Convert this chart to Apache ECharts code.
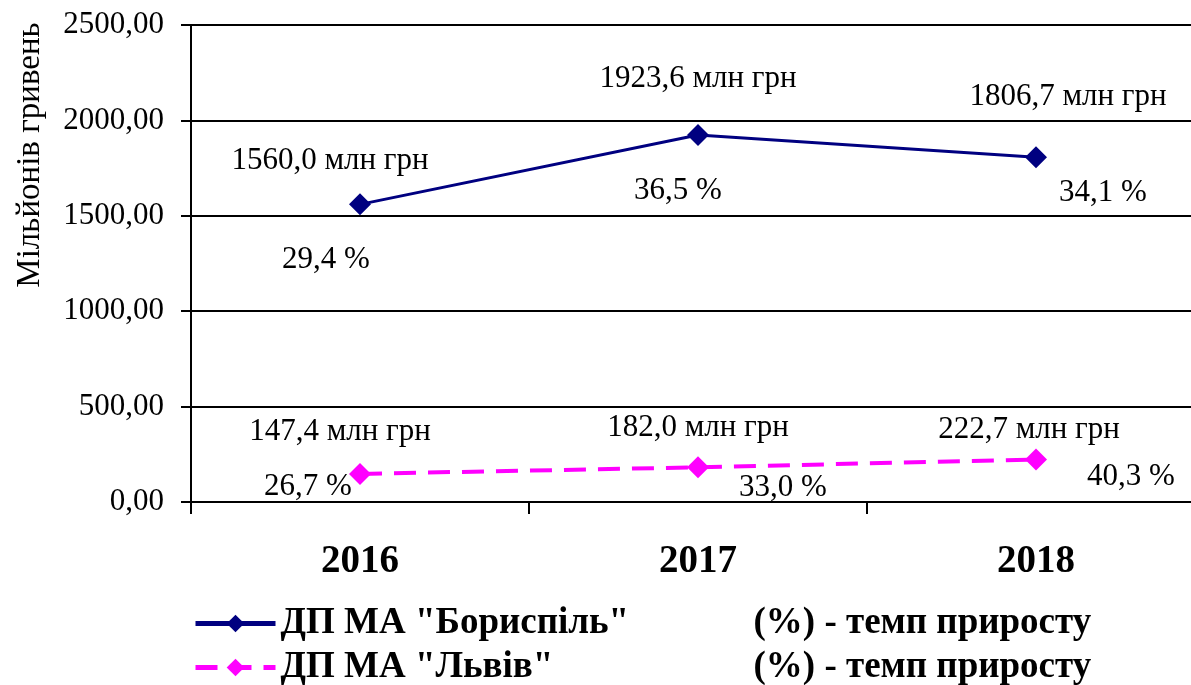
<!DOCTYPE html>
<html>
<head>
<meta charset="utf-8">
<script src="https://cdn.jsdelivr.net/npm/echarts@6/dist/echarts.min.js"></script>
<style>
  html, body { margin: 0; padding: 0; background: #fff; overflow: hidden; }
  /* полотно трохи ширше за вікно: права частина осі обрізана, як в оригіналі */
  #chart { width: 1205px; height: 685px; }
</style>
</head>
<body>
<div id="chart"></div>
<script>
// дані
const years = ['2016', '2017', '2018'];
const borysValues = [1560.0, 1923.6, 1806.7];
const borysGrowth = [29.4, 36.5, 34.1];
const lvivValues = [147.4, 182.0, 222.7];
const lvivGrowth = [26.7, 33.0, 40.3];
const yTicks = [0, 500, 1000, 1500, 2000, 2500];

const nameBorys = 'ДП МА "Бориспіль"';
const nameLviv = 'ДП МА "Львів"';
const yName = 'Мільйонів гривень';

const FONT = '"Liberation Serif", "Times New Roman", serif';

// зміщення підписів відносно точок
const borysValOff = [[-30, -43], [0, -56], [32, -60]];
const borysPctOff = [[-34, 56], [-20, 56], [67, 36]];
const lvivValOff = [[-20, -42], [0, -39], [-7, -30]];
const lvivPctOff = [[-52, 13], [85, 21], [95, 17]];

const fmt = (v, d) => v.toFixed(d).replace('.', ',');

function withLabels(values, offsets, textFn) {
    return values.map((v, i) => ({
        value: v,
        label: { offset: offsets[i], formatter: textFn(v, i) }
    }));
}

const baseLabel = {
    show: true,
    position: 'inside',
    align: 'center',
    verticalAlign: 'middle',
    color: '#000',
    fontFamily: FONT,
    fontSize: 31
};

// легенда: дві окремі, щоб не переносилась
function makeLegend(name, top) {
    const bold = { fontFamily: FONT, fontSize: 37, fontWeight: 'bold', color: '#000' };
    return {
        data: [name],
        orient: 'horizontal',
        left: 188,
        top: top,
        itemWidth: 80,
        itemHeight: 22,
        lineStyle: { width: 5 },
        formatter: n => '{n|' + n + '}{p|(%) - темп приросту}',
        textStyle: Object.assign({}, bold, {
            rich: {
                n: Object.assign({ width: 473 }, bold),
                p: bold
            }
        })
    };
}

const chart = echarts.init(document.getElementById('chart'));
chart.setOption({
    animation: false,
    backgroundColor: '#fff',
    grid: { left: 191, right: 0, top: 25, bottom: 183 },
    legend: [makeLegend(nameBorys, 600), makeLegend(nameLviv, 644)],
    graphic: [{
        type: 'text',
        x: 30,
        y: 155,
        rotation: Math.PI / 2,
        style: {
            text: yName,
            fontFamily: FONT,
            fontSize: 33,
            fill: '#000',
            align: 'center',
            verticalAlign: 'middle'
        }
    }],
    xAxis: {
        type: 'category',
        data: years,
        boundaryGap: true,
        axisLine: { lineStyle: { color: '#000', width: 2 } },
        axisTick: { show: true, length: 12, lineStyle: { color: '#000', width: 2 } },
        axisLabel: {
            margin: 40,
            fontFamily: FONT,
            fontSize: 39,
            fontWeight: 'bold',
            color: '#000'
        },
        splitLine: { show: false }
    },
    yAxis: {
        type: 'value',
        min: yTicks[0],
        max: yTicks[yTicks.length - 1],
        interval: 500,
        axisLine: { show: true, lineStyle: { color: '#000', width: 2 } },
        axisTick: { show: true, length: 10, lineStyle: { color: '#000', width: 2 } },
        axisLabel: {
            margin: 27,
            fontFamily: FONT,
            fontSize: 31,
            color: '#000',
            formatter: v => fmt(v, 2)
        },
        splitLine: { show: true, lineStyle: { color: '#000', width: 2 } }
    },
    series: [
        {
            name: nameBorys,
            type: 'line',
            data: withLabels(borysValues, borysValOff, v => fmt(v, 1) + ' млн грн'),
            symbol: 'diamond',
            symbolSize: 22,
            itemStyle: { color: '#000080' },
            lineStyle: { color: '#000080', width: 3 },
            label: baseLabel,
            z: 3
        },
        {
            name: 'borysPct',
            type: 'line',
            data: withLabels(borysValues, borysPctOff, (v, i) => fmt(borysGrowth[i], 1) + ' %'),
            symbol: 'circle',
            symbolSize: 1,
            itemStyle: { color: 'transparent' },
            lineStyle: { opacity: 0 },
            label: baseLabel,
            silent: true
        },
        {
            name: nameLviv,
            type: 'line',
            data: withLabels(lvivValues, lvivValOff, v => fmt(v, 1) + ' млн грн'),
            symbol: 'diamond',
            symbolSize: 22,
            itemStyle: { color: '#ff00ff' },
            lineStyle: { color: '#ff00ff', width: 4, type: [22, 12] },
            label: baseLabel,
            z: 3
        },
        {
            name: 'lvivPct',
            type: 'line',
            data: withLabels(lvivValues, lvivPctOff, (v, i) => fmt(lvivGrowth[i], 1) + ' %'),
            symbol: 'circle',
            symbolSize: 1,
            itemStyle: { color: 'transparent' },
            lineStyle: { opacity: 0 },
            label: baseLabel,
            silent: true
        }
    ]
});
</script>
</body>
</html>
